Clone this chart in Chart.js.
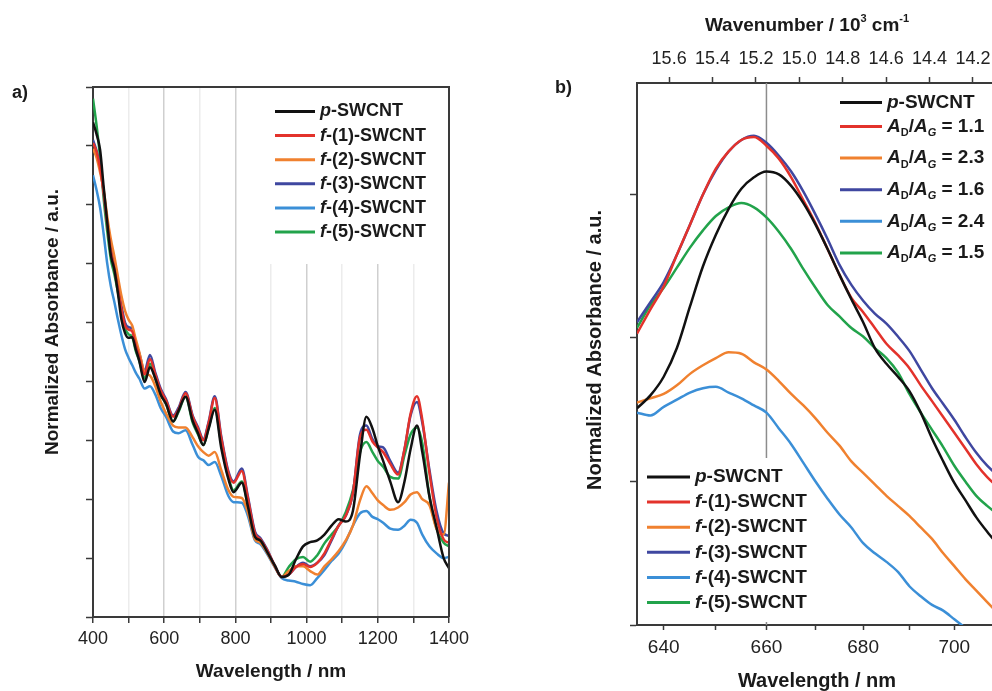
<!DOCTYPE html>
<html><head><meta charset="utf-8">
<script src="https://cdn.jsdelivr.net/npm/chart.js@4.4.1/dist/chart.umd.min.js"></script>
<style>
html,body{margin:0;padding:0;background:#fff;overflow:hidden;width:992px;height:691px;position:relative}
#ca{position:absolute;left:0;top:0}
#cb{position:absolute;left:500px;top:0}
</style></head><body>
<canvas id="ca" width="500" height="691"></canvas>
<canvas id="cb" width="520" height="691"></canvas>
<script>
// ---------- data ----------
const seriesNames = ['p-SWCNT','f-(1)-SWCNT','f-(2)-SWCNT','f-(3)-SWCNT','f-(4)-SWCNT','f-(5)-SWCNT'];
const seriesColors = ['#111111','#e3322b','#f0812f','#3f47a0','#3b8fd7','#22a34b'];
const adRatios = [null,'1.1','2.3','1.6','2.4','1.5'];

// panel a: wavelength (nm)
const wlA = [400,410,420,430,440,450,460,470,480,490,500,510,520,530,545,560,575,590,605,625,640,660,680,695,710,725,742,760,780,795,818,835,855,870,888,910,930,950,970,990,1010,1030,1050,1070,1090,1110,1130,1150,1168,1185,1200,1215,1235,1257,1275,1292,1310,1325,1345,1365,1385,1400];
const absA_p  = [8.40,8.20,7.93,7.30,6.70,6.15,5.90,5.50,5.05,4.82,4.74,4.75,4.55,4.35,3.99,4.24,4.05,3.78,3.62,3.32,3.50,3.74,3.33,3.12,2.92,3.20,3.52,2.88,2.35,2.12,2.28,1.88,1.36,1.30,1.12,0.88,0.68,0.72,0.98,1.20,1.27,1.30,1.40,1.55,1.66,1.62,1.80,2.75,3.40,3.20,2.90,2.65,2.30,1.95,2.30,2.85,3.25,2.80,2.05,1.52,1.00,0.83];
const absA_f1 = [8.05,7.90,7.62,7.20,6.68,6.22,5.92,5.58,5.22,4.95,4.88,4.85,4.62,4.42,4.12,4.38,4.12,3.85,3.68,3.40,3.52,3.80,3.40,3.20,3.00,3.30,3.72,3.05,2.45,2.28,2.48,2.02,1.42,1.32,1.15,0.88,0.68,0.72,0.85,0.90,0.85,0.92,1.08,1.32,1.55,1.72,2.10,3.05,3.18,2.98,2.88,2.80,2.60,2.42,2.85,3.45,3.75,3.35,2.45,1.70,1.32,1.26];
const absA_f2 = [7.95,7.80,7.55,7.25,6.80,6.42,6.12,5.78,5.45,5.20,5.05,4.95,4.72,4.50,4.15,4.10,3.92,3.66,3.46,3.25,3.22,3.22,3.05,2.90,2.80,2.74,2.80,2.50,2.16,2.04,2.02,1.78,1.32,1.26,1.10,0.86,0.68,0.78,0.86,0.86,0.78,0.72,0.86,0.98,1.12,1.30,1.55,1.98,2.22,2.10,1.98,1.90,1.82,1.86,1.95,2.08,2.12,2.00,1.90,1.50,1.40,2.28];
const absA_f3 = [8.10,7.92,7.65,7.22,6.70,6.25,5.95,5.62,5.28,5.00,4.92,4.90,4.65,4.48,4.18,4.45,4.15,3.88,3.70,3.42,3.55,3.82,3.42,3.22,3.02,3.32,3.75,3.08,2.48,2.30,2.52,2.05,1.45,1.34,1.16,0.88,0.68,0.72,0.85,0.92,0.86,0.92,1.05,1.30,1.55,1.72,2.10,3.10,3.25,3.02,2.90,2.88,2.65,2.45,2.85,3.42,3.65,3.30,2.50,1.80,1.42,1.38];
const absA_f4 = [7.50,7.25,6.95,6.50,6.00,5.62,5.35,5.05,4.78,4.55,4.40,4.28,4.15,4.05,3.88,3.92,3.78,3.55,3.40,3.15,3.12,3.17,2.92,2.72,2.66,2.58,2.63,2.40,2.06,1.95,1.94,1.72,1.30,1.24,1.08,0.85,0.66,0.62,0.60,0.56,0.54,0.66,0.80,0.95,1.08,1.28,1.55,1.76,1.80,1.70,1.66,1.60,1.50,1.48,1.55,1.65,1.60,1.40,1.20,1.08,1.00,1.02];
const absA_f5 = [8.80,8.35,7.80,7.10,6.55,6.08,5.82,5.52,5.18,4.90,4.80,4.76,4.52,4.35,4.05,4.30,4.05,3.78,3.62,3.32,3.48,3.74,3.30,3.10,2.92,3.22,3.55,2.95,2.38,2.15,2.30,1.90,1.38,1.30,1.12,0.88,0.68,0.85,0.98,1.02,0.94,1.05,1.25,1.40,1.55,1.78,2.15,2.80,2.97,2.80,2.65,2.55,2.38,2.35,2.75,3.10,3.22,2.95,2.05,1.50,1.26,1.20];
const ticksA_x = [400,500,600,700,800,900,1000,1100,1200,1300,1400];
const labelsA_x = [400,600,800,1000,1200,1400];
const ticksA_y = [0,1,2,3,4,5,6,7,8,9];

// panel b: wavelength (nm), plotted on a wavenumber (10^3 cm^-1) axis
const wlB = [635,637.5,640,642.5,645,647.5,650,652.5,655,657.5,660,662.5,665,667.5,670,672.5,675,677.5,680,682.5,685,687.5,690,692.5,695,697.5,700,702.5,705,707.5,710];
const absB_p  = [1.51,1.60,1.73,1.93,2.22,2.50,2.72,2.90,3.04,3.12,3.16,3.14,3.06,2.94,2.79,2.62,2.44,2.27,2.11,1.93,1.82,1.73,1.63,1.48,1.30,1.14,0.99,0.87,0.75,0.65,0.56];
const absB_f1 = [2.03,2.20,2.36,2.58,2.79,3.00,3.18,3.30,3.38,3.40,3.34,3.25,3.12,2.96,2.80,2.62,2.44,2.28,2.18,2.07,1.96,1.88,1.79,1.67,1.56,1.45,1.34,1.23,1.12,1.03,0.96];
const absB_f2 = [1.55,1.58,1.61,1.67,1.75,1.81,1.86,1.90,1.89,1.83,1.78,1.70,1.61,1.53,1.44,1.34,1.25,1.14,1.06,0.98,0.90,0.83,0.76,0.68,0.60,0.50,0.41,0.32,0.24,0.16,0.08];
const absB_f3 = [2.11,2.25,2.39,2.58,2.79,3.00,3.17,3.30,3.38,3.41,3.36,3.27,3.16,3.02,2.86,2.69,2.51,2.37,2.26,2.17,2.10,2.01,1.91,1.78,1.65,1.54,1.43,1.31,1.20,1.11,1.04];
const absB_f4 = [1.48,1.46,1.52,1.57,1.62,1.65,1.66,1.62,1.58,1.53,1.48,1.37,1.26,1.13,1.00,0.88,0.77,0.68,0.57,0.50,0.44,0.37,0.27,0.20,0.14,0.10,0.04,-0.02,-0.08,-0.14,-0.20];
const absB_f5 = [2.07,2.23,2.35,2.49,2.63,2.75,2.85,2.91,2.94,2.91,2.84,2.74,2.62,2.48,2.35,2.23,2.15,2.07,2.01,1.93,1.86,1.76,1.61,1.48,1.36,1.24,1.11,1.00,0.90,0.83,0.77];
const ticksB_nm = [640,650,660,670,680,690,700,710];
const labelsB_nm = [640,660,680,700];
const ticksB_k = [15.6,15.4,15.2,15.0,14.8,14.6,14.4,14.2];
const ticksB_y = [0,1,2,3];
const markerNm = 660;
const rangeB_nm = [635,710];

// ---------- helpers ----------
const FONT = '"Liberation Sans", Arial, Helvetica, sans-serif';
Chart.defaults.font.family = FONT;
Chart.defaults.color = '#1e1e1e';

function rich(ctx, x, y, parts, size, measureOnly){
  let cx = x;
  for (const p of parts){
    const small = p.sub || p.sup;
    const fs = small ? Math.round(size*0.6) : size;
    ctx.font = (p.it ? 'italic ' : '') + 'bold ' + fs + 'px ' + FONT;
    const dy = p.sub ? size*0.34 : (p.sup ? -size*0.36 : 0);
    if (!measureOnly) ctx.fillText(p.t, cx, y + dy);
    cx += ctx.measureText(p.t).width;
  }
  return cx - x;
}
const nameParts = n => [{t:n[0], it:true},{t:n.slice(1)}];
const ratioParts = r => [{t:'A',it:true},{t:'D',sub:true},{t:'/'},{t:'A',it:true},{t:'G',sub:true,it:true},{t:' = '+r}];

function drawLegend(ctx, chart, cfg){
  chart.data.datasets.forEach((ds,i)=>{
    const y = cfg.rows[i];
    ctx.strokeStyle = ds.borderColor; ctx.lineWidth = 3;
    ctx.beginPath(); ctx.moveTo(cfg.x0,y); ctx.lineTo(cfg.x1,y); ctx.stroke();
    ctx.fillStyle = '#1a1a1a'; ctx.textBaseline='middle'; ctx.textAlign='left';
    rich(ctx, cfg.tx, y, cfg.parts(i), cfg.size);
  });
}
function vTitle(ctx, text, cx, cy, size){
  ctx.save(); ctx.translate(cx,cy); ctx.rotate(-Math.PI/2);
  ctx.font = 'bold '+size+'px '+FONT; ctx.fillStyle='#1a1a1a';
  ctx.textAlign='center'; ctx.textBaseline='middle'; ctx.fillText(text,0,0); ctx.restore();
}
function hTitle(ctx, text, cx, cy, size){
  ctx.font = 'bold '+size+'px '+FONT; ctx.fillStyle='#1a1a1a';
  ctx.textAlign='center'; ctx.textBaseline='middle'; ctx.fillText(text,cx,cy);
}
const axisCol = '#3a3a3a';

// ---------- panel a ----------
const seriesA = [absA_p, absA_f1, absA_f2, absA_f3, absA_f4, absA_f5];
const decoA = {
  id:'decoA',
  beforeDatasetsDraw(chart){
    const ctx = chart.ctx, a = chart.chartArea;
    ctx.save(); ctx.fillStyle='#fff'; ctx.fillRect(268, a.top+1, a.right-268-1, 176); ctx.restore();
  },
  afterDatasetsDraw(chart){
    const ctx = chart.ctx, a = chart.chartArea;
    ctx.save();
    ctx.strokeStyle = axisCol; ctx.lineWidth = 2;
    ctx.beginPath(); ctx.moveTo(a.left, a.top); ctx.lineTo(a.right, a.top); ctx.lineTo(a.right, a.bottom); ctx.stroke();
    drawLegend(ctx, chart, {rows: seriesNames.map((_,i)=>111.5+i*24.1), x0:275, x1:315, tx:320, size:18, parts:i=>nameParts(seriesNames[i])});
    hTitle(ctx, 'Wavelength / nm', (a.left+a.right)/2, 672, 19);
    vTitle(ctx, 'Normalized Absorbance / a.u.', 53, 322, 19);
    ctx.font='bold 18px '+FONT; ctx.textAlign='left'; ctx.textBaseline='middle'; ctx.fillStyle='#1a1a1a';
    ctx.fillText('a)', 12, 93);
    ctx.restore();
  }
};
new Chart(document.getElementById('ca'), {
  type:'line',
  data:{datasets: seriesA.map((s,i)=>({label:seriesNames[i], data: wlA.map((w,j)=>({x:w,y:s[j]})), borderColor:seriesColors[i], borderWidth:2.5, pointRadius:0, cubicInterpolationMode:'monotone', fill:false}))},
  options:{
    responsive:false, devicePixelRatio:1, animation:false,
    layout:{padding:{top:87,right:51,left:0,bottom:0}},
    plugins:{legend:{display:false}, tooltip:{enabled:false}},
    scales:{
      x:{type:'linear', min:400, max:1400,
        afterBuildTicks:s=>{s.ticks = ticksA_x.map(v=>({value:v}));},
        ticks:{autoSkip:false, maxRotation:0, padding:5, font:{size:18}, color:'#222', callback:v=>labelsA_x.includes(v)?String(v):''},
        grid:{color:c=>(c.tick && labelsA_x.includes(c.tick.value))?'#cfcfcf':'#ececec', lineWidth:1.5, drawTicks:true, tickLength:6, tickColor:axisCol, tickWidth:1.5},
        border:{color:axisCol, width:2},
        afterFit:s=>{s.height=74;}
      },
      y:{type:'linear', min:0, max:9,
        afterBuildTicks:s=>{s.ticks = ticksA_y.map(v=>({value:v}));},
        ticks:{display:false},
        grid:{drawOnChartArea:false, drawTicks:true, tickLength:7, tickColor:axisCol, tickWidth:1.5},
        border:{color:axisCol, width:2},
        afterFit:s=>{s.width=93;}
      }
    }
  },
  plugins:[decoA]
});

// ---------- panel b ----------
const seriesB = [absB_p, absB_f1, absB_f2, absB_f3, absB_f4, absB_f5];
const kMin = 1e4/rangeB_nm[1], kMax = 1e4/rangeB_nm[0];
const decoB = {
  id:'decoB',
  beforeDatasetsDraw(chart){
    const ctx = chart.ctx, a = chart.chartArea;
    const xm = chart.scales.x.getPixelForValue(1e4/markerNm);
    ctx.save();
    ctx.strokeStyle='#8c8c8c'; ctx.lineWidth=1.5;
    ctx.beginPath(); ctx.moveTo(xm, a.top); ctx.lineTo(xm, a.bottom); ctx.stroke();
    ctx.fillStyle='#fff'; ctx.fillRect(a.left+3, 458, 176, a.bottom-458-3);
    ctx.restore();
  },
  afterDatasetsDraw(chart){
    const ctx = chart.ctx, a = chart.chartArea;
    ctx.save();
    drawLegend(ctx, chart, {rows: seriesNames.map((_,i)=> i===0?102.5:126.5+(i-1)*31.6), x0:340, x1:382, tx:387, size:19,
      parts:i=> i===0 ? nameParts(seriesNames[0]) : ratioParts(adRatios[i])});
    drawLegend(ctx, chart, {rows: seriesNames.map((_,i)=>477+i*25.1), x0:147, x1:190, tx:195, size:19, parts:i=>nameParts(seriesNames[i])});
    hTitle(ctx, 'Wavelength / nm', 317, 681, 20);
    vTitle(ctx, 'Normalized Absorbance / a.u.', 95, 350, 20);
    const tparts = [{t:'Wavenumber / 10'},{t:'3',sup:true},{t:' cm'},{t:'-1',sup:true}];
    ctx.fillStyle='#1a1a1a'; ctx.textAlign='left'; ctx.textBaseline='middle';
    const w = rich(ctx,0,0,tparts,19,true);
    rich(ctx, 307-w/2, 26, tparts, 19);
    ctx.font='bold 18px '+FONT; ctx.fillText('b)', 55, 88);
    ctx.restore();
  }
};
new Chart(document.getElementById('cb'), {
  type:'line',
  data:{datasets: seriesB.map((s,i)=>({label:seriesNames[i], data: wlB.map((w,j)=>({x:1e4/w,y:s[j]})), borderColor:seriesColors[i], borderWidth:2.5, pointRadius:0, cubicInterpolationMode:'monotone', fill:false}))},
  options:{
    responsive:false, devicePixelRatio:1, animation:false,
    layout:{padding:{top:0,right:22,left:0,bottom:0}},
    plugins:{legend:{display:false}, tooltip:{enabled:false}},
    scales:{
      x:{type:'linear', position:'bottom', reverse:true, min:kMin, max:kMax,
        afterBuildTicks:s=>{s.ticks = ticksB_nm.map(l=>({value:1e4/l}));},
        ticks:{autoSkip:false, maxRotation:0, padding:6, font:{size:19}, color:'#222', callback:v=>{const l=Math.round(1e4/v); return labelsB_nm.includes(l)?String(l):'';}},
        grid:{drawOnChartArea:false, drawTicks:true, tickLength:5, tickColor:axisCol, tickWidth:1.5},
        border:{color:axisCol, width:2},
        afterFit:s=>{s.height=66;}
      },
      x2:{type:'linear', axis:'x', position:'top', reverse:true, min:kMin, max:kMax,
        afterBuildTicks:s=>{s.ticks = ticksB_k.map(v=>({value:v}));},
        ticks:{autoSkip:false, maxRotation:0, padding:7, font:{size:18}, color:'#222', callback:v=>Number(v).toFixed(1)},
        grid:{drawOnChartArea:false, drawTicks:true, tickLength:6, tickColor:axisCol, tickWidth:1.5},
        border:{color:axisCol, width:2},
        afterFit:s=>{s.height=83;}
      },
      y:{type:'linear', min:0, max:3.777,
        afterBuildTicks:s=>{s.ticks = ticksB_y.map(v=>({value:v}));},
        ticks:{display:false},
        grid:{drawOnChartArea:false, drawTicks:true, tickLength:7, tickColor:axisCol, tickWidth:1.5},
        border:{color:axisCol, width:2},
        afterFit:s=>{s.width=137;}
      }
    }
  },
  plugins:[decoB]
});
</script>
</body></html>
